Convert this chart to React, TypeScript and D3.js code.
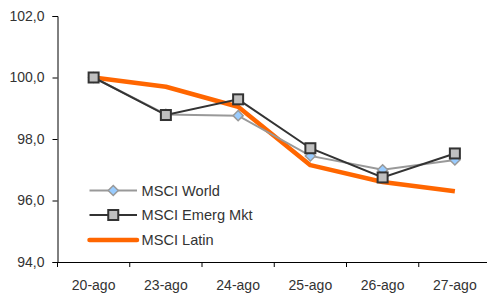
import React, { useRef, useEffect } from 'react';
import * as d3 from 'd3';

const categories = ['20-ago', '23-ago', '24-ago', '25-ago', '26-ago', '27-ago'];
const msciWorld = [100.0, 98.8, 98.76, 97.45, 97.0, 97.32];
const msciEmerg = [100.0, 98.78, 99.29, 97.7, 96.75, 97.53];
const msciLatin = [100.0, 99.7, 99.05, 97.15, 96.6, 96.3];
const yTicks = [94, 96, 98, 100, 102];
const seriesNames = ['MSCI World', 'MSCI Emerg Mkt', 'MSCI Latin'];

const App = () => {
  const chart = useRef<SVGSVGElement | null>(null);

  useEffect(() => {
    const svg = d3.select(chart.current);
    svg.selectAll('*').remove();

    const left = 57.5;
    const right = 491;
    const top = 16;
    const bottom = 262;
    const font = 'Liberation Sans, Arial, sans-serif';
    const textColor = '#333';

    const x = d3.scaleBand().domain(categories).range([left, right]);
    const y = d3.scaleLinear().domain([94, 102]).range([bottom, top]);
    const cx = (d: string) => (x(d) as number) + x.bandwidth() / 2;

    // y axis
    const yAxis = svg
      .append('g')
      .attr('transform', `translate(${left},0)`)
      .call(
        d3
          .axisLeft(y)
          .tickValues(yTicks)
          .tickSize(5)
          .tickPadding(8)
          .tickFormat((d) => d3.format('.1f')(d as number).replace('.', ','))
      );
    yAxis.select('.domain').attr('stroke', '#000');
    yAxis.selectAll('.tick line').attr('stroke', '#000');
    yAxis
      .selectAll('.tick text')
      .attr('font-family', font)
      .attr('font-size', 14)
      .attr('fill', textColor);

    // x axis
    const xAxis = svg
      .append('g')
      .attr('transform', `translate(0,${bottom})`)
      .call(d3.axisBottom(x).tickSize(0).tickPadding(18));
    xAxis.select('.domain').attr('stroke', '#000');
    xAxis
      .selectAll('.tick text')
      .attr('font-family', font)
      .attr('font-size', 14)
      .attr('fill', textColor);
    xAxis
      .selectAll('line.bound')
      .data(categories)
      .enter()
      .append('line')
      .attr('class', 'bound')
      .attr('x1', (d) => x(d) as number)
      .attr('x2', (d) => x(d) as number)
      .attr('y1', 0)
      .attr('y2', 5)
      .attr('stroke', '#000');

    const line = d3
      .line<number>()
      .x((_, i) => cx(categories[i]))
      .y((d) => y(d));

    // MSCI Latin
    svg
      .append('path')
      .attr('d', line(msciLatin))
      .attr('fill', 'none')
      .attr('stroke', '#FF6600')
      .attr('stroke-width', 4.5)
      .attr('stroke-linejoin', 'round');

    // MSCI World
    svg
      .append('path')
      .attr('d', line(msciWorld))
      .attr('fill', 'none')
      .attr('stroke', '#999')
      .attr('stroke-width', 2);
    const diamond = d3.symbol().type(d3.symbolDiamond2).size(65);
    svg
      .selectAll('path.world')
      .data(msciWorld)
      .enter()
      .append('path')
      .attr('class', 'world')
      .attr('d', diamond)
      .attr('transform', (d, i) => `translate(${cx(categories[i])},${y(d)})`)
      .attr('fill', '#99CCFF')
      .attr('stroke', '#999')
      .attr('stroke-width', 1.5);

    // MSCI Emerg Mkt
    svg
      .append('path')
      .attr('d', line(msciEmerg))
      .attr('fill', 'none')
      .attr('stroke', '#333')
      .attr('stroke-width', 2);
    svg
      .selectAll('rect.emerg')
      .data(msciEmerg)
      .enter()
      .append('rect')
      .attr('class', 'emerg')
      .attr('x', (_, i) => cx(categories[i]) - 5)
      .attr('y', (d) => y(d) - 5)
      .attr('width', 10)
      .attr('height', 10)
      .attr('fill', '#C0C0C0')
      .attr('stroke', '#333')
      .attr('stroke-width', 2);

    // legend
    const lg = svg.append('g');
    const rowY = [190.5, 215, 240];
    const lx1 = 89.5;
    const lx2 = 137;
    const lmid = (lx1 + lx2) / 2;

    lg.append('line')
      .attr('x1', lx1).attr('x2', lx2).attr('y1', rowY[0]).attr('y2', rowY[0])
      .attr('stroke', '#999').attr('stroke-width', 2);
    lg.append('path')
      .attr('d', diamond)
      .attr('transform', `translate(${lmid},${rowY[0]})`)
      .attr('fill', '#99CCFF').attr('stroke', '#999').attr('stroke-width', 1.5);

    lg.append('line')
      .attr('x1', lx1).attr('x2', lx2).attr('y1', rowY[1]).attr('y2', rowY[1])
      .attr('stroke', '#333').attr('stroke-width', 2);
    lg.append('rect')
      .attr('x', lmid - 5).attr('y', rowY[1] - 5).attr('width', 10).attr('height', 10)
      .attr('fill', '#C0C0C0').attr('stroke', '#333').attr('stroke-width', 2);

    lg.append('line')
      .attr('x1', lx1).attr('x2', lx2).attr('y1', rowY[2]).attr('y2', rowY[2])
      .attr('stroke', '#FF6600').attr('stroke-width', 4.5).attr('stroke-linecap', 'round');

    lg.selectAll('text')
      .data(seriesNames)
      .enter()
      .append('text')
      .attr('x', 141.5)
      .attr('y', (_, i) => rowY[i])
      .attr('dy', '0.35em')
      .attr('font-family', font)
      .attr('font-size', 14.6)
      .attr('fill', textColor)
      .text((d) => d);
  }, []);

  return (
    <svg
      ref={chart}
      width={487}
      height={295}
      style={{ position: 'absolute', left: 0, top: 0, background: '#fff' }}
    />
  );
};

export default App;
